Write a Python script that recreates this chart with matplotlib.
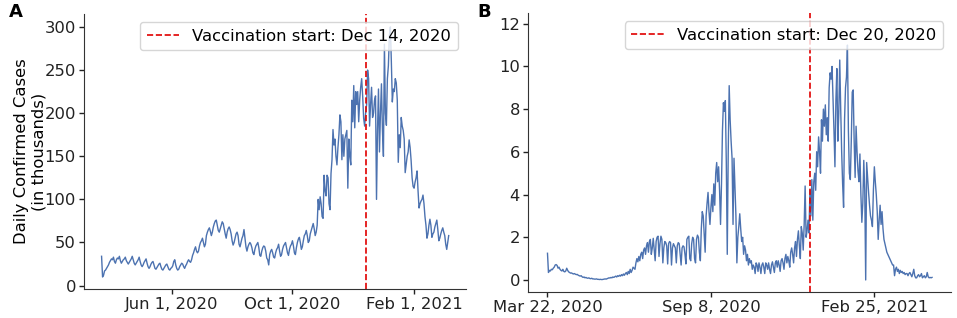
import matplotlib
matplotlib.use("Agg")
import matplotlib.pyplot as plt
import matplotlib.dates as mdates
import pandas as pd

# Panel A: daily confirmed cases (thousands), one row per week, from Mar 22, 2020
cases_a = [
    34, 10, 12, 17, 18, 20, 22,
    24, 27, 29, 31, 30, 33, 28,
    26, 30, 32, 31, 34, 29, 26,
    28, 30, 31, 33, 29, 27, 25,
    27, 29, 31, 34, 30, 26, 24,
    26, 28, 30, 33, 28, 24, 22,
    24, 27, 29, 31, 26, 22, 20,
    22, 25, 27, 28, 24, 20, 19,
    21, 23, 25, 26, 22, 19, 18,
    20, 22, 24, 25, 22, 19, 18,
    20, 21, 23, 28, 30, 24, 20,
    18, 19, 22, 24, 26, 25, 22,
    20, 23, 25, 28, 30, 28, 27,
    30, 35, 38, 42, 45, 40, 38,
    40, 46, 50, 52, 55, 50, 45,
    48, 58, 62, 65, 67, 63, 58,
    62, 68, 72, 75, 76, 70, 64,
    62, 66, 70, 74, 72, 66, 60,
    55, 62, 66, 68, 65, 60, 52,
    47, 50, 55, 60, 62, 58, 48,
    45, 50, 55, 58, 65, 55, 45,
    40, 45, 48, 50, 48, 44, 38,
    36, 42, 46, 48, 50, 44, 35,
    34, 40, 44, 46, 45, 40, 32,
    30, 24, 36, 40, 42, 38, 33,
    32, 38, 42, 44, 48, 40, 34,
    36, 42, 46, 48, 50, 44, 38,
    35, 42, 46, 48, 52, 46, 38,
    36, 44, 50, 54, 56, 50, 42,
    45, 52, 58, 60, 64, 58, 50,
    52, 60, 64, 68, 72, 66, 58,
    62, 70, 100, 88, 103, 95, 80,
    78, 128, 110, 104, 128, 125, 95,
    88, 130, 146, 181, 163, 170, 150,
    140, 160, 175, 198, 190, 146, 175,
    150, 170, 175, 180, 113, 170, 150,
    140, 215, 190, 232, 183, 225, 210,
    225, 190, 215, 230, 240, 220, 194,
    185, 200, 210, 250, 240, 185, 210,
    230, 195, 200, 215, 220, 100, 180,
    228, 155, 200, 234, 180, 150, 280,
    200, 186, 240, 255, 290, 300, 260,
    213, 228, 225, 240, 235, 215, 143,
    175, 160, 195, 185, 180, 170, 131,
    140, 150, 155, 169, 160, 145, 125,
    115, 113, 120, 125, 133, 110, 90,
    95, 98, 100, 105, 95, 80, 70,
    55, 60, 70, 77, 70, 56, 60,
    62, 68, 72, 76, 65, 52, 55,
    60, 64, 67, 62, 58, 48, 42, 50, 58,
]

# Panel B: daily confirmed cases (thousands), ten days per row, from Mar 22, 2020
cases_b = [
    1.25, 0.35, 0.45, 0.42, 0.5, 0.48, 0.55, 0.6, 0.7, 0.72,
    0.68, 0.55, 0.6, 0.5, 0.45, 0.42, 0.5, 0.4, 0.38, 0.42,
    0.55, 0.45, 0.38, 0.35, 0.32, 0.33, 0.3, 0.28, 0.3, 0.27,
    0.25, 0.26, 0.22, 0.2, 0.18, 0.2, 0.15, 0.12, 0.14, 0.1,
    0.12, 0.09, 0.08, 0.1, 0.07, 0.06, 0.08, 0.05, 0.05, 0.04,
    0.04, 0.05, 0.03, 0.03, 0.02, 0.03, 0.02, 0.02, 0.03, 0.04,
    0.05, 0.04, 0.06, 0.08, 0.1, 0.09, 0.12, 0.1, 0.14, 0.12,
    0.15, 0.18, 0.14, 0.2, 0.17, 0.22, 0.18, 0.25, 0.2, 0.28,
    0.22, 0.3, 0.35, 0.25, 0.4, 0.3, 0.5, 0.35, 0.45, 0.6,
    0.55, 0.5, 0.8, 1.0, 0.85, 1.1, 0.9, 1.2, 1.3, 1.0,
    1.4, 1.5, 1.2, 1.6, 1.75, 1.3, 1.8, 1.9, 1.2, 1.5,
    1.95, 1.4, 0.9, 1.8, 2.0, 2.05, 1.1, 1.7, 2.05, 1.9,
    0.8, 1.5, 1.8, 1.75, 1.6, 0.75, 1.7, 1.8, 1.75, 0.7,
    1.5, 1.7, 1.6, 1.5, 0.8, 1.6, 1.75, 1.7, 1.2, 0.7,
    1.5, 1.6, 1.55, 1.2, 0.75, 1.9, 2.0, 2.05, 1.0, 0.9,
    1.7, 2.0, 1.9, 1.0, 0.8, 1.9, 2.1, 2.0, 1.3, 0.9,
    2.4, 3.2, 3.0, 2.1, 1.3, 3.0, 3.6, 4.1, 3.2, 2.6,
    3.4, 4.0, 3.2, 4.5, 3.5, 5.0, 5.5, 4.6, 5.3, 4.2,
    2.6, 4.5, 7.0, 8.3, 7.9, 8.4, 5.5, 1.2, 6.0, 9.1,
    7.5, 6.5, 5.7, 2.6, 5.7, 4.3, 3.0, 0.8, 2.0, 2.5,
    3.1, 2.4, 1.8, 2.0, 1.2, 1.6, 1.4, 0.9, 1.2, 0.7,
    1.0, 0.8, 0.9, 0.5, 0.7, 0.6, 0.3, 0.8, 0.7, 0.4,
    0.8, 0.6, 0.3, 0.7, 0.8, 0.6, 0.3, 0.8, 0.7, 0.5,
    0.8, 0.5, 0.3, 0.7, 0.85, 0.6, 0.35, 0.8, 0.9, 0.6,
    0.9, 0.7, 0.4, 0.9, 1.0, 0.8, 0.5, 1.0, 1.2, 0.8,
    1.1, 0.9, 0.6, 1.3, 1.5, 1.2, 0.8, 1.5, 1.8, 1.1,
    1.9, 2.3, 1.6, 1.0, 2.5, 2.2, 1.4, 2.6, 4.4, 2.0,
    2.3, 2.8, 2.2, 4.2, 3.0, 4.7, 2.8, 4.6, 5.0, 4.2,
    6.0, 5.3, 6.7, 6.0, 5.0, 7.5, 6.5, 8.0, 7.2, 8.2,
    6.8, 7.6, 6.5, 9.0, 9.7, 9.4, 10.0, 8.5, 7.0, 5.3,
    8.4, 9.9, 6.5, 7.8, 10.3, 8.0, 6.0, 4.5, 3.4, 7.5,
    9.0, 9.5, 11.0, 7.0, 5.0, 4.7, 6.5, 8.8, 8.9, 6.5,
    4.8, 7.2, 6.0, 5.1, 4.6, 5.9, 4.0, 2.7, 3.6, 5.6,
    4.2, 0.0, 5.5, 4.8, 4.1, 3.5, 3.0, 2.8, 2.5, 4.2,
    5.3, 4.6, 4.0, 3.2, 1.9, 2.8, 3.5, 2.6, 3.2, 2.4,
    1.9, 1.7, 1.5, 1.3, 1.2, 1.1, 1.0, 0.9, 0.8, 0.7,
    0.7, 0.2, 0.5, 0.6, 0.4, 0.5, 0.3, 0.45, 0.35, 0.4,
    0.3, 0.35, 0.25, 0.3, 0.3, 0.2, 0.3, 0.35, 0.25, 0.15,
    0.3, 0.5, 0.2, 0.1, 0.1, 0.2, 0.25, 0.15, 0.2, 0.3,
    0.1, 0.15, 0.2, 0.1, 0.15, 0.35, 0.15, 0.1, 0.12, 0.1,
    0.12,
]

start = "2020-03-22"
vacc_a = pd.Timestamp("2020-12-14")
vacc_b = pd.Timestamp("2020-12-20")
ticks_a = ["2020-06-01", "2020-10-01", "2021-02-01"]
ticks_b = ["2020-03-22", "2020-09-08", "2021-02-25"]

dates_a = pd.date_range(start, periods=len(cases_a), freq="D")
dates_b = pd.date_range(start, periods=len(cases_b), freq="D")

line_color = "#4C72B0"
fs = 11.8

fig = plt.figure(figsize=(9.57, 3.18), dpi=100)
ax_a = fig.add_axes([0.088, 0.091, 0.399, 0.865])
ax_b = fig.add_axes([0.552, 0.082, 0.442, 0.877])

panels = [
    (ax_a, dates_a, cases_a, vacc_a, ticks_a, (-4, 315)),
    (ax_b, dates_b, cases_b, vacc_b, ticks_b, (-0.56, 12.5)),
]

for ax, dates, vals, vacc, ticks, ylim in panels:
    ax.plot(dates, vals, color=line_color, lw=1.0)
    ax.axvline(vacc, color="#e00000", ls="--", lw=1.2,
               label="Vaccination start: " + vacc.strftime("%b %-d, %Y"))
    ax.set_ylim(*ylim)
    ax.set_xticks(pd.to_datetime(ticks))
    ax.xaxis.set_major_formatter(mdates.DateFormatter("%b %-d, %Y"))
    ax.tick_params(labelsize=fs, length=3.5, width=1, pad=2.5, colors="#222222")
    for s in ["top", "right"]:
        ax.spines[s].set_visible(False)
    for s in ["left", "bottom"]:
        ax.spines[s].set_color("#333333")
    ax.legend(loc="upper right", fontsize=fs, handlelength=2.0,
              borderaxespad=0.5, fancybox=True, framealpha=0.8)

ax_a.set_yticks([0, 50, 100, 150, 200, 250, 300])
ax_b.set_yticks([0, 2, 4, 6, 8, 10, 12])
ax_a.set_ylabel("Daily Confirmed Cases\n(in thousands)", fontsize=fs)
ax_a.yaxis.set_label_coords(-0.10, 0.5)

fig.text(0.009, 0.99, "A", fontsize=13, fontweight="bold", va="top")
fig.text(0.499, 0.99, "B", fontsize=13, fontweight="bold", va="top")

fig.savefig("out.png", dpi=100)
